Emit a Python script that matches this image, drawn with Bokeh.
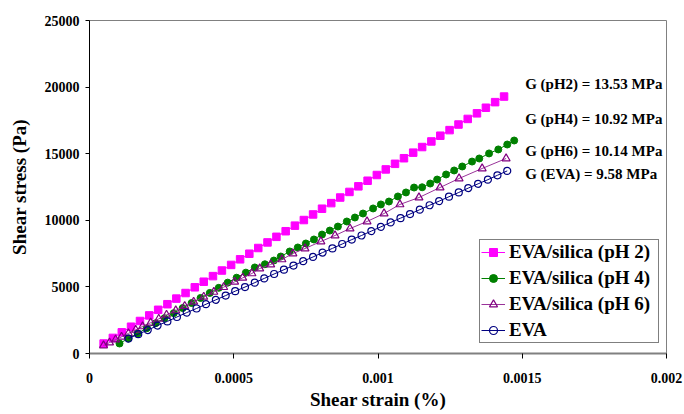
from bokeh.plotting import figure
from bokeh.models import FixedTicker, CustomJSTickFormatter, NumeralTickFormatter, Range1d, Legend, LegendItem
from bokeh.core.properties import value
from bokeh.embed import file_html
from bokeh.resources import INLINE

# ---- data ----
ph2_strain = [0.000049, 0.000081, 0.000112, 0.000144, 0.000175, 0.000207, 0.000238, 0.000270, 0.000301,
              0.000333, 0.000365, 0.000396, 0.000428, 0.000459, 0.000491, 0.000522, 0.000554, 0.000585,
              0.000617, 0.000648, 0.000680, 0.000712, 0.000743, 0.000775, 0.000806, 0.000838, 0.000869,
              0.000901, 0.000932, 0.000964, 0.000996, 0.001027, 0.001059, 0.001090, 0.001122, 0.001153,
              0.001185, 0.001216, 0.001248, 0.001279, 0.001311, 0.001343, 0.001374, 0.001406, 0.001437]
ph2_stress = [750, 1170, 1590, 2010, 2440, 2860, 3280, 3700, 4120, 4540, 4970, 5390, 5810, 6230, 6650,
              7070, 7490, 7920, 8340, 8760, 9180, 9600, 10020, 10440, 10870, 11290, 11710, 12130, 12550,
              12970, 13400, 13820, 14240, 14660, 15080, 15500, 15920, 16350, 16770, 17190, 17610, 18030,
              18450, 18870, 19290]

ph4_strain = [0.000104, 0.000135, 0.000167, 0.000198, 0.000229, 0.000260, 0.000292, 0.000323, 0.000354,
              0.000385, 0.000417, 0.000448, 0.000479, 0.000510, 0.000542, 0.000573, 0.000608, 0.000639,
              0.000663, 0.000694, 0.000722, 0.000750, 0.000778, 0.000806, 0.000833, 0.000861, 0.000892,
              0.000920, 0.000948, 0.000983, 0.001010, 0.001038, 0.001069, 0.001097, 0.001125, 0.001153,
              0.001181, 0.001205, 0.001236, 0.001264, 0.001292, 0.001326, 0.001351, 0.001385, 0.001417,
              0.001448, 0.001472]
ph4_stress = [750, 1130, 1510, 1890, 2270, 2650, 3030, 3410, 3790, 4170, 4550, 4930, 5320, 5690, 6070,
              6460, 6700, 6980, 7280, 7660, 7960, 8260, 8560, 8930, 9230, 9530, 9910, 10210, 10510,
              10890, 11190, 11410, 11790, 12090, 12460, 12480, 12760, 13060, 13440, 13740, 14040, 14410,
              14640, 15020, 15320, 15690, 15990]

ph6_strain = [0.0000486, 0.0000694, 0.0000903, 0.000111, 0.000135, 0.000160, 0.000184, 0.000212, 0.000240,
              0.000267, 0.000299, 0.000330, 0.000361, 0.000396, 0.000431, 0.000465, 0.000503, 0.000531,
              0.000563, 0.000590, 0.000628, 0.000667, 0.000705, 0.000747, 0.000802, 0.000851, 0.000903,
              0.000962, 0.001021, 0.001076, 0.001142, 0.001215, 0.001281, 0.001361, 0.001444]
ph6_stress = [600, 820, 1040, 1250, 1510, 1770, 2030, 2310, 2600, 2900, 3230, 3560, 3880, 4250, 4620,
              4980, 5380, 5680, 6010, 6380, 6680, 7060, 7510, 7880, 8410, 8860, 9380, 9910, 10510,
              11190, 11710, 12460, 13140, 13890, 14640]

eva_strain = [0.000135, 0.000169, 0.000202, 0.000236, 0.000270, 0.000303, 0.000337, 0.000371, 0.000404,
              0.000438, 0.000472, 0.000505, 0.000539, 0.000573, 0.000606, 0.000640, 0.000674, 0.000707,
              0.000741, 0.000775, 0.000808, 0.000842, 0.000876, 0.000909, 0.000943, 0.000977, 0.001010,
              0.001044, 0.001078, 0.001111, 0.001145, 0.001179, 0.001212, 0.001246, 0.001280, 0.001313,
              0.001347, 0.001381, 0.001414, 0.001448]
eva_stress = [1120, 1450, 1760, 2100, 2410, 2740, 3070, 3380, 3700, 4030, 4350, 4680, 4990, 5320, 5640,
              5970, 6290, 6600, 6930, 7250, 7580, 7890, 8220, 8550, 8860, 9190, 9510, 9840, 10160,
              10470, 10800, 11130, 11440, 11770, 12090, 12420, 12740, 13050, 13380, 13710]

series_names = ["EVA/silica (pH 2)", "EVA/silica (pH 4)", "EVA/silica (pH 6)", "EVA"]
modulus_labels = ["G (pH2) = 13.53 MPa", "G (pH4) = 10.92 MPa", "G (pH6) = 10.14 MPa", "G (EVA) = 9.58 MPa"]
label_x = [0.00151, 0.00151, 0.00151, 0.00151]
label_y = [20270, 17570, 15170, 13510]

x_ticks = [0, 0.0005, 0.001, 0.0015, 0.002]
y_ticks = [0, 5000, 10000, 15000, 20000, 25000]

FONT = "'Liberation Serif', serif"

p = figure(width=684, height=414, output_backend="svg", toolbar_location=None,
           x_range=Range1d(0, 0.002), y_range=Range1d(0, 25000),
           min_border_left=89, min_border_top=20, min_border_right=18, min_border_bottom=61)
p.background_fill_color = "white"
p.border_fill_color = "white"
p.outline_line_color = "#808080"
p.outline_line_width = 1
p.xgrid.visible = False
p.ygrid.visible = False

p.xaxis.ticker = FixedTicker(ticks=x_ticks)
p.yaxis.ticker = FixedTicker(ticks=y_ticks)
p.xaxis.formatter = CustomJSTickFormatter(code="return parseFloat(tick.toPrecision(6)).toString();")
p.yaxis.formatter = NumeralTickFormatter(format="0")
for ax in (p.xaxis[0], p.yaxis[0]):
    ax.major_label_text_font = FONT
    ax.major_label_text_font_style = "bold"
    ax.major_label_text_font_size = "14px"
    ax.major_label_text_color = "black"
    ax.axis_label_text_font = FONT
    ax.axis_label_text_font_style = "bold"
    ax.axis_label_text_font_size = "19px"
    ax.axis_label_text_color = "black"
    ax.minor_tick_line_color = None
    ax.major_tick_in = 0
    ax.major_tick_line_color = "black"
p.xaxis.axis_label = "Shear strain (%)"
p.yaxis.axis_label = "Shear stress (Pa)"
p.xaxis.axis_line_color = "#808080"
p.xaxis.axis_line_width = 2
p.xaxis.major_tick_out = 5
p.xaxis.major_label_standoff = 14
p.xaxis.axis_label_standoff = 3
p.yaxis.axis_line_color = "black"
p.yaxis.axis_line_width = 1
p.yaxis.major_tick_out = 4
p.yaxis.major_label_standoff = 6
p.yaxis.axis_label_standoff = 12

# series
l1 = p.line(ph2_strain, ph2_stress, line_color="#FF00FF", line_width=1)
m1 = p.scatter(ph2_strain, ph2_stress, marker="square", size=7.5, fill_color="#FF00FF", line_color="#FF00FF")
l2 = p.line(ph4_strain, ph4_stress, line_color="#008000", line_width=1)
m2 = p.scatter(ph4_strain, ph4_stress, marker="circle", size=7, fill_color="#008000", line_color="#008000")
l3 = p.line(ph6_strain, ph6_stress, line_color="#993399", line_width=1)
m3 = p.scatter(ph6_strain, ph6_stress, marker="triangle", size=8, fill_color=None, line_color="#800080", line_width=1.2)
l4 = p.line(eva_strain, eva_stress, line_color="#000080", line_width=1)
m4 = p.scatter(eva_strain, eva_stress, marker="circle", size=7, fill_color=None, line_color="#000080", line_width=1.2)

# modulus annotations
p.text(x=label_x, y=label_y, text=modulus_labels, text_font=value(FONT), text_font_style="bold",
       text_font_size="15px", text_color="black", text_baseline="middle", text_align="left")

legend = Legend(items=[
    LegendItem(label=series_names[0], renderers=[l1, m1]),
    LegendItem(label=series_names[1], renderers=[l2, m2]),
    LegendItem(label=series_names[2], renderers=[l3, m3]),
    LegendItem(label=series_names[3], renderers=[l4, m4]),
], location=(390, 10))
legend.label_text_font = FONT
legend.label_text_font_style = "bold"
legend.label_text_font_size = "19px"
legend.label_text_color = "black"
legend.label_height = 20
legend.glyph_height = 20
legend.glyph_width = 24
legend.label_standoff = 4
legend.label_width = 148
legend.spacing = 4
legend.padding = 1
legend.margin = 0
legend.border_line_color = "black"
legend.border_line_width = 1
legend.background_fill_color = "white"
legend.background_fill_alpha = 1
p.add_layout(legend, "center")

open("out.html", "w").write(file_html(p, INLINE))
